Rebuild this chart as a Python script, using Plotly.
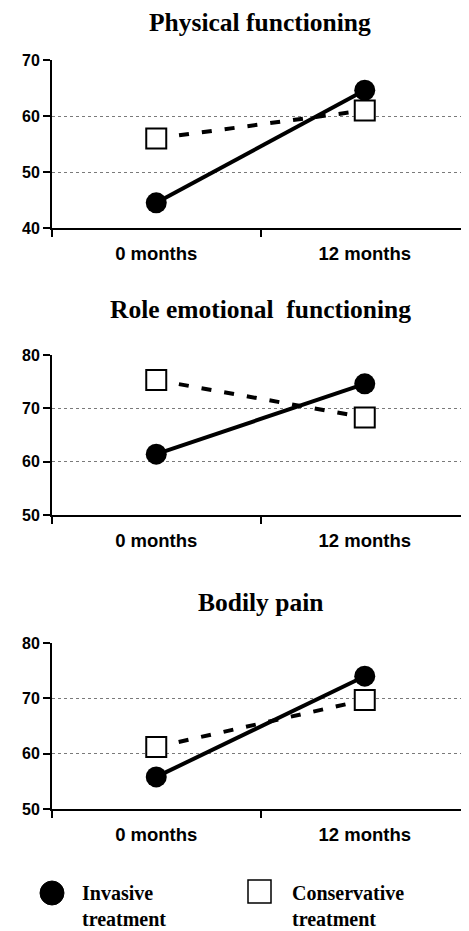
import plotly.graph_objects as go

categories = ["0 months", "12 months"]
titles = ["Physical functioning", "Role emotional  functioning", "Bodily pain"]
invasive = [[44.5, 64.6], [61.4, 74.6], [55.8, 74.0]]
conservative = [[56.0, 61.0], [75.3, 68.3], [61.2, 69.7]]
y_ranges = [[40, 70], [50, 80], [50, 80]]
y_ticks = [[40, 50, 60, 70], [50, 60, 70, 80], [50, 60, 70, 80]]
series_names = ["Invasive<br>treatment", "Conservative<br>treatment"]

# page has an 8px body margin; figure sized to fit the 469x931 window
OFF = 8
W, H = 469 - OFF, 931 - OFF
L = 52 - OFF  # left margin (y-axis position)

# pixel layout in page coordinates (top, bottom)
panel_px = [(60, 228), (355, 515), (643, 809)]
title_px = [23, 310, 602]

def px_x(x):
    return (x - OFF - L) / (W - L)
def px_y(y):
    return 1 - (y - OFF) / H

fig = go.Figure()
for i in range(3):
    xa = "x" if i == 0 else f"x{i+1}"
    ya = "y" if i == 0 else f"y{i+1}"
    fig.add_trace(go.Scatter(
        x=categories, y=conservative[i], xaxis=xa, yaxis=ya, mode="lines+markers",
        line=dict(color="black", width=4, dash="10px,13px"),
        marker=dict(symbol="square", size=20, color="white", line=dict(color="black", width=2)),
        showlegend=False, cliponaxis=False))
    fig.add_trace(go.Scatter(
        x=categories, y=invasive[i], xaxis=xa, yaxis=ya, mode="lines+markers",
        line=dict(color="black", width=4),
        marker=dict(symbol="circle", size=21, color="black"),
        showlegend=False, cliponaxis=False))
    top, bot = panel_px[i]
    dom = [px_y(bot), px_y(top)]
    axkey = "xaxis" if i == 0 else f"xaxis{i+1}"
    aykey = "yaxis" if i == 0 else f"yaxis{i+1}"
    fig.layout[axkey] = dict(
        domain=[0, 1], anchor=ya, type="category", range=[-0.5, 1.5],
        showline=True, linecolor="black", linewidth=2,
        ticks="outside", tickson="boundaries", ticklen=7, tickwidth=2, tickcolor="black",
        showgrid=False, ticklabelstandoff=8, automargin=False,
        tickfont=dict(family="Liberation Sans", size=18.5, color="black", weight="bold"))
    fig.layout[aykey] = dict(
        domain=dom, anchor=xa, range=y_ranges[i], tickvals=y_ticks[i],
        showline=True, linecolor="black", linewidth=2,
        ticks="outside", ticklen=7, tickwidth=2, tickcolor="black",
        showgrid=True, gridcolor="#7a7a7a", gridwidth=1, griddash="dot",
        zeroline=False, automargin=False,
        tickfont=dict(family="Liberation Sans", size=16, color="black", weight="bold"))
    fig.add_annotation(text=titles[i], xref="paper", yref="paper",
                       x=px_x(260), y=px_y(title_px[i]), showarrow=False,
                       xanchor="center", yanchor="middle",
                       font=dict(family="Liberation Serif", size=25.5, color="black", weight="bold"))

# legend (drawn manually)
fig.add_shape(type="circle", xref="paper", yref="paper",
              x0=px_x(40), x1=px_x(64), y0=px_y(905), y1=px_y(881),
              fillcolor="black", line=dict(color="black", width=1))
fig.add_shape(type="rect", xref="paper", yref="paper",
              x0=px_x(248), x1=px_x(271), y0=px_y(903), y1=px_y(880),
              fillcolor="white", line=dict(color="black", width=1.5))
for x0, name in [(80, series_names[0]), (290, series_names[1])]:
    fig.add_annotation(text=name, xref="paper", yref="paper",
                       x=px_x(x0), y=px_y(906), showarrow=False,
                       xanchor="left", yanchor="middle", align="left",
                       font=dict(family="Liberation Serif", size=20, color="black", weight="bold"))

fig.update_layout(width=W, height=H, margin=dict(l=L, r=0, t=0, b=0, autoexpand=False),
                  paper_bgcolor="white", plot_bgcolor="white", showlegend=False)
fig.write_html("out.html")
